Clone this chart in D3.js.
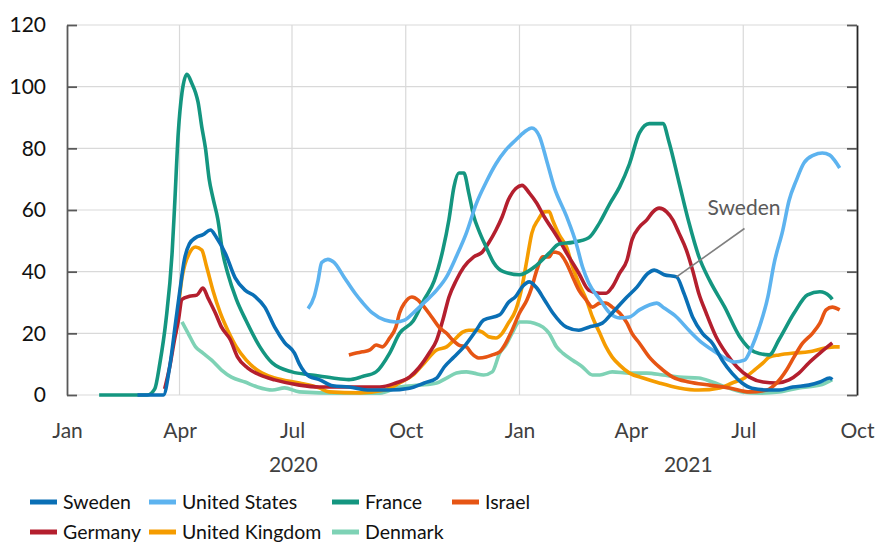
<!DOCTYPE html>
<html>
<head>
<meta charset="utf-8">
<script src="https://cdn.jsdelivr.net/npm/d3@7"></script>
<style>
  body { margin: 0; background: #fff; }
  svg { display: block; font-family: Lato, "Open Sans", sans-serif; }
</style>
</head>
<body>
<svg id="chart" width="876" height="547"></svg>
<script>
// values (date, value)
const sweden = [["2020-02-27",0],["2020-03-19",0],["2020-03-24",9],["2020-03-29",24],["2020-04-01",33],["2020-04-05",44],["2020-04-09",49],["2020-04-14",51],["2020-04-20",52],["2020-04-26",53.5],["2020-05-01",51],["2020-05-08",46],["2020-05-16",38],["2020-05-24",34],["2020-06-01",32],["2020-06-09",28.5],["2020-06-17",22],["2020-06-25",17],["2020-07-03",13.6],["2020-07-07",10],["2020-07-15",6],["2020-07-23",5],["2020-08-03",3],["2020-08-16",2.6],["2020-09-02",1.6],["2020-09-18",1.6],["2020-10-04",2.2],["2020-10-16",3.9],["2020-10-26",5.5],["2020-11-01",9],["2020-11-09",12.3],["2020-11-17",15.6],["2020-11-27",21],["2020-12-03",24.3],["2020-12-16",26],["2020-12-23",30],["2020-12-29",32],["2021-01-03",35],["2021-01-09",36.7],["2021-01-15",34.7],["2021-01-21",31],["2021-01-28",26.6],["2021-02-08",22],["2021-02-18",21],["2021-02-26",22],["2021-03-09",23.3],["2021-03-17",26.6],["2021-03-27",31],["2021-04-06",35],["2021-04-15",39.5],["2021-04-20",40.5],["2021-04-28",39],["2021-05-08",38.3],["2021-05-14",33],["2021-05-21",25.3],["2021-05-29",20],["2021-06-06",16.8],["2021-06-14",11.3],["2021-06-22",7],["2021-06-30",3.9],["2021-07-08",2.2],["2021-07-22",1.6],["2021-07-30",1.6],["2021-08-10",2.6],["2021-08-23",3.2],["2021-09-01",4.2],["2021-09-09",5.5],["2021-09-11",5]];

const unitedStates = [["2020-07-14",28],["2020-07-19",32],["2020-07-22",37],["2020-07-25",43],["2020-07-30",44],["2020-08-04",43],["2020-08-12",38.3],["2020-08-21",33],["2020-08-27",30],["2020-09-04",26.6],["2020-09-14",24.3],["2020-09-23",23.7],["2020-09-30",24.3],["2020-10-07",26.6],["2020-10-16",30],["2020-10-26",34],["2020-11-03",38.3],["2020-11-11",45],["2020-11-19",52.5],["2020-11-27",62],["2020-12-05",69],["2020-12-13",75],["2020-12-21",79.5],["2020-12-29",82.7],["2021-01-05",85.3],["2021-01-11",86.6],["2021-01-17",84],["2021-01-23",76],["2021-01-29",67.5],["2021-02-08",58],["2021-02-16",49],["2021-02-21",41.5],["2021-02-26",36.3],["2021-03-07",31],["2021-03-15",26.6],["2021-03-23",25],["2021-03-31",25.3],["2021-04-08",27.6],["2021-04-16",29.2],["2021-04-22",29.8],["2021-04-28",28.2],["2021-05-08",25.3],["2021-05-18",21],["2021-05-29",16.8],["2021-06-06",14.6],["2021-06-16",12],["2021-06-24",10.7],["2021-07-02",11.3],["2021-07-08",15.6],["2021-07-14",22],["2021-07-21",32],["2021-07-26",42.8],["2021-08-02",53.5],["2021-08-07",63],["2021-08-13",69.7],["2021-08-19",75.2],["2021-08-27",77.8],["2021-09-03",78.5],["2021-09-09",77.8],["2021-09-13",76],["2021-09-17",73.6]];

const france = [["2020-01-27",0],["2020-03-06",0],["2020-03-12",2],["2020-03-16",10],["2020-03-21",24],["2020-03-26",46],["2020-03-28",61],["2020-03-31",85],["2020-04-03",98],["2020-04-07",104],["2020-04-11",101],["2020-04-14",98],["2020-04-16",95],["2020-04-19",87],["2020-04-22",80],["2020-04-25",70],["2020-04-28",64],["2020-05-02",57],["2020-05-06",46],["2020-05-10",39.5],["2020-05-17",31],["2020-05-25",24],["2020-06-05",15.6],["2020-06-15",10.4],["2020-07-01",7.5],["2020-07-17",6.5],["2020-08-03",5.5],["2020-08-16",5],["2020-08-27",6],["2020-09-07",7.5],["2020-09-18",13.6],["2020-09-26",20],["2020-10-07",24],["2020-10-16",31],["2020-10-24",37],["2020-10-31",47],["2020-11-05",57],["2020-11-09",67.5],["2020-11-13",72],["2020-11-17",72],["2020-11-21",65.5],["2020-11-25",58],["2020-11-29",53.5],["2020-12-05",48],["2020-12-11",43],["2020-12-19",40],["2021-01-01",39],["2021-01-13",41.5],["2021-01-25",46],["2021-02-02",49],["2021-02-13",49.5],["2021-02-26",51],["2021-03-07",56],["2021-03-15",62],["2021-03-23",67.5],["2021-03-31",75],["2021-04-08",85],["2021-04-16",88],["2021-04-27",88],["2021-05-02",82],["2021-05-10",69],["2021-05-18",56],["2021-05-26",45],["2021-06-04",37],["2021-06-16",28.5],["2021-06-28",19],["2021-07-10",14],["2021-07-22",13],["2021-07-30",18],["2021-08-11",26.5],["2021-08-22",32.5],["2021-09-01",33.5],["2021-09-09",32],["2021-09-11",31]];

const israel = [["2020-08-16",13],["2020-08-22",13.6],["2020-08-27",14],["2020-09-02",14.6],["2020-09-07",16.2],["2020-09-12",15.6],["2020-09-18",18.5],["2020-09-23",22],["2020-09-26",26.6],["2020-09-30",29.8],["2020-10-06",31.8],["2020-10-11",30.8],["2020-10-16",28.5],["2020-10-22",25.3],["2020-10-28",22],["2020-11-03",20],["2020-11-08",17.8],["2020-11-13",16.2],["2020-11-19",15.6],["2020-11-23",13.6],["2020-11-29",12],["2020-12-05",12.3],["2020-12-10",13],["2020-12-16",14],["2020-12-21",16.9],["2020-12-26",21],["2021-01-01",26.6],["2021-01-07",30.8],["2021-01-11",35],["2021-01-15",40.5],["2021-01-20",44.8],["2021-01-25",44.8],["2021-01-28",46.4],["2021-02-02",46],["2021-02-08",42.8],["2021-02-13",38.3],["2021-02-18",34],["2021-02-24",30.8],["2021-03-01",28.5],["2021-03-07",29.8],["2021-03-12",29.8],["2021-03-17",28.5],["2021-03-23",26.6],["2021-03-29",23.3],["2021-04-02",20],["2021-04-08",16.8],["2021-04-16",12.3],["2021-04-24",9.1],["2021-05-05",5.8],["2021-05-18",4.2],["2021-06-04",3.2],["2021-06-20",2.3],["2021-07-06",1],["2021-07-20",1.6],["2021-07-28",3.9],["2021-08-05",8.1],["2021-08-11",12.3],["2021-08-18",16.8],["2021-08-26",20],["2021-09-01",23.3],["2021-09-06",27.6],["2021-09-11",28.5],["2021-09-17",27.6]];

const germany = [["2020-03-20",2],["2020-03-24",9],["2020-03-28",18],["2020-03-31",24],["2020-04-03",31],["2020-04-09",32],["2020-04-15",32.4],["2020-04-20",34.7],["2020-04-24",31.5],["2020-04-30",26.6],["2020-05-05",22],["2020-05-12",18],["2020-05-18",12.3],["2020-05-26",8.8],["2020-06-05",6.5],["2020-06-17",4.9],["2020-07-07",3.2],["2020-07-23",2.6],["2020-08-16",2.6],["2020-09-10",2.6],["2020-09-23",3.9],["2020-10-04",5.8],["2020-10-12",9],["2020-10-20",13.6],["2020-10-26",17.8],["2020-10-31",24.3],["2020-11-05",31.8],["2020-11-11",37.3],["2020-11-17",41.5],["2020-11-25",44.8],["2020-12-02",46.4],["2020-12-07",49.3],["2020-12-13",53.5],["2020-12-18",57.8],["2020-12-23",63.3],["2020-12-29",67],["2021-01-03",68],["2021-01-09",65.5],["2021-01-15",62.2],["2021-01-21",57.8],["2021-01-28",53.5],["2021-02-02",50.3],["2021-02-10",44.8],["2021-02-18",39.5],["2021-02-26",34],["2021-03-07",33],["2021-03-12",33],["2021-03-17",35],["2021-03-23",39.5],["2021-03-29",43.8],["2021-04-02",50.3],["2021-04-08",54.5],["2021-04-14",56.8],["2021-04-19",59.4],["2021-04-24",60.6],["2021-04-30",59.4],["2021-05-05",56.8],["2021-05-10",52.5],["2021-05-16",47],["2021-05-21",40.5],["2021-05-26",33],["2021-06-01",26.6],["2021-06-09",18.9],["2021-06-17",13.6],["2021-06-26",9.1],["2021-07-06",5.8],["2021-07-17",4.2],["2021-07-28",3.9],["2021-08-07",4.9],["2021-08-15",7.1],["2021-08-23",10.4],["2021-09-01",13.6],["2021-09-11",16.9]];

const unitedKingdom = [["2020-03-29",20],["2020-04-03",38],["2020-04-09",46],["2020-04-14",48],["2020-04-19",47],["2020-04-23",41.5],["2020-04-28",34],["2020-05-04",26.6],["2020-05-10",21],["2020-05-17",15.6],["2020-05-25",11.3],["2020-06-05",7.5],["2020-06-17",5.5],["2020-07-07",3.9],["2020-07-23",2.3],["2020-07-31",1],["2020-08-25",0.7],["2020-09-14",1.6],["2020-09-26",3.9],["2020-10-07",6.5],["2020-10-16",10.4],["2020-10-26",14.6],["2020-11-03",15.6],["2020-11-09",17.8],["2020-11-16",20.4],["2020-11-21",21],["2020-11-27",21],["2020-12-02",20.4],["2020-12-07",18.9],["2020-12-13",18.5],["2020-12-18",20],["2020-12-23",23.3],["2020-12-29",27.6],["2021-01-03",35],["2021-01-07",43.8],["2021-01-11",52.5],["2021-01-16",56.8],["2021-01-21",59.4],["2021-01-25",59.5],["2021-01-28",56.5],["2021-02-02",52],["2021-02-08",48],["2021-02-13",41.5],["2021-02-18",36.3],["2021-02-24",31],["2021-03-01",25.3],["2021-03-07",20],["2021-03-12",15.6],["2021-03-17",12.3],["2021-03-23",9.7],["2021-03-31",7.1],["2021-04-11",5.5],["2021-04-24",3.9],["2021-05-10",2.3],["2021-05-26",1.6],["2021-06-12",2.3],["2021-06-22",3.9],["2021-07-02",5.5],["2021-07-10",8.1],["2021-07-17",10.4],["2021-07-22",12.3],["2021-07-30",13],["2021-08-11",13.6],["2021-08-23",14],["2021-09-05",15.2],["2021-09-13",15.6],["2021-09-17",15.6]];

const denmark = [["2020-04-03",23.7],["2020-04-08",20],["2020-04-14",15.6],["2020-04-20",13.6],["2020-04-27",11.3],["2020-05-05",8.1],["2020-05-13",5.8],["2020-05-24",4.2],["2020-06-03",2.6],["2020-06-15",1.6],["2020-06-25",2.3],["2020-07-07",1],["2020-08-08",0.6],["2020-09-10",0.6],["2020-09-26",2.6],["2020-10-12",3.2],["2020-10-26",3.9],["2020-11-03",5.5],["2020-11-11",7.1],["2020-11-19",7.5],["2020-11-25",7.1],["2020-12-03",6.5],["2020-12-10",7.5],["2020-12-16",13.6],["2020-12-21",16.2],["2020-12-26",20],["2021-01-01",23.7],["2021-01-07",23.7],["2021-01-13",23.3],["2021-01-20",22],["2021-01-25",20],["2021-01-31",15.6],["2021-02-05",13.6],["2021-02-13",11.3],["2021-02-21",9.1],["2021-03-01",6.5],["2021-03-07",6.5],["2021-03-17",7.5],["2021-03-31",7.1],["2021-04-14",7.1],["2021-04-27",6.5],["2021-05-10",5.8],["2021-05-26",5.5],["2021-06-06",4.2],["2021-06-17",2.6],["2021-06-30",1],["2021-07-14",0.6],["2021-07-30",1],["2021-08-15",2.3],["2021-09-01",3.2],["2021-09-11",5]];

const countries = ["Sweden", "United States", "France", "Israel", "Germany", "United Kingdom", "Denmark"];
const seriesValues = [sweden, unitedStates, france, israel, germany, unitedKingdom, denmark];
const colors = ["#0a6fb5", "#5db3ef", "#149680", "#e65514", "#b41f2e", "#f59c00", "#7ed2b5"];

const yTicks = [0, 20, 40, 60, 80, 100, 120];
const monthTicks = ["2020-01-01", "2020-04-01", "2020-07-01", "2020-10-01", "2021-01-01", "2021-04-01", "2021-07-01", "2021-10-01"];
const yearLabels = [["2020", "2020-01-01", "2021-01-01"], ["2021", "2021-01-01", "2021-10-01"]];

const parse = d3.timeParse("%Y-%m-%d");
const svg = d3.select("#chart");
const margin = { top: 25, right: 19, bottom: 152, left: 67 };
const W = 876, H = 547;

const x = d3.scaleTime()
    .domain([parse("2020-01-01"), parse("2021-10-01")])
    .range([margin.left, W - margin.right]);
const y = d3.scaleLinear()
    .domain([0, 120])
    .range([H - margin.bottom, margin.top]);

// gridlines
svg.append("g")
    .selectAll("line.hgrid")
    .data(yTicks)
    .enter()
    .append("line")
        .attr("x1", margin.left).attr("x2", W - margin.right)
        .attr("y1", d => y(d)).attr("y2", d => y(d))
        .attr("stroke", "#d9d9d9").attr("stroke-width", 1.2);

svg.append("g")
    .selectAll("line.vgrid")
    .data(monthTicks.slice(1, -1))
    .enter()
    .append("line")
        .attr("x1", d => x(parse(d))).attr("x2", d => x(parse(d)))
        .attr("y1", y(0)).attr("y2", y(120))
        .attr("stroke", "#d9d9d9").attr("stroke-width", 1.2);

// left axis, ticks pointing inward
const yAxis = svg.append("g")
    .attr("transform", `translate(${margin.left},0)`)
    .call(d3.axisLeft(y).tickValues(yTicks).tickSizeInner(-10).tickSizeOuter(0).tickPadding(21));
yAxis.select(".domain").attr("stroke", "#595959").attr("stroke-width", 1.8);
yAxis.selectAll(".tick line").attr("stroke", "#595959").attr("stroke-width", 1.8);
yAxis.selectAll("text").attr("font-size", 21).attr("fill", "#111").attr("font-family", "Lato");

// right axis
const yAxisR = svg.append("g")
    .attr("transform", `translate(${W - margin.right},0)`)
    .call(d3.axisRight(y).tickValues(yTicks).tickSizeInner(-10).tickSizeOuter(0).tickFormat(""));
yAxisR.select(".domain").attr("stroke", "#262626").attr("stroke-width", 1.8);
yAxisR.selectAll(".tick line").attr("stroke", "#595959").attr("stroke-width", 1.8);

// bottom month labels
const xAxis = svg.append("g")
    .attr("transform", `translate(0,${y(0)})`)
    .call(d3.axisBottom(x).tickValues(monthTicks.map(parse)).tickFormat(d3.timeFormat("%b")).tickSize(0).tickPadding(28));
xAxis.select(".domain").remove();
xAxis.selectAll("text").attr("font-size", 21).attr("fill", "#404040").attr("font-family", "Lato");

svg.append("g")
    .selectAll("text")
    .data(yearLabels)
    .enter()
    .append("text")
        .attr("x", d => (x(parse(d[1])) + x(parse(d[2]))) / 2)
        .attr("y", y(0) + 77)
        .attr("text-anchor", "middle")
        .attr("font-size", 21)
        .attr("fill", "#404040")
        .text(d => d[0]);

// lines, Sweden drawn last so it sits on top
const line = d3.line()
    .x(d => x(parse(d[0])))
    .y(d => y(d[1]))
    .curve(d3.curveMonotoneX);

const order = d3.range(countries.length).reverse();
svg.append("g")
    .selectAll("path")
    .data(order)
    .enter()
    .append("path")
        .attr("d", i => line(seriesValues[i]))
        .attr("fill", "none")
        .attr("stroke", i => colors[i])
        .attr("stroke-width", 3.6)
        .attr("stroke-linejoin", "round");

// annotation for Sweden
const anchor = sweden.find(d => d[0] === "2021-05-08");
svg.append("line")
    .attr("x1", x(parse("2021-07-02"))).attr("y1", y(54))
    .attr("x2", x(parse(anchor[0]))).attr("y2", y(anchor[1]))
    .attr("stroke", "#7f7f7f").attr("stroke-width", 1.6);
svg.append("text")
    .attr("x", x(parse("2021-06-02")))
    .attr("y", y(58.5))
    .attr("font-size", 21)
    .attr("fill", "#595959")
    .text("Sweden");

// legend, 4 columns
const colX = [30, 149, 332, 452];
const rowY = [502, 532];
const legend = svg.append("g")
    .selectAll("g")
    .data(countries)
    .enter()
    .append("g")
        .attr("transform", (d, i) => `translate(${colX[i % 4]},${rowY[Math.floor(i / 4)]})`);
legend.append("line")
    .attr("x1", 0).attr("x2", 27)
    .attr("stroke", (d, i) => colors[i])
    .attr("stroke-width", 5);
legend.append("text")
    .attr("x", 33)
    .attr("dy", "0.35em")
    .attr("font-size", 19.5)
    .attr("fill", "#111")
    .text(d => d);
</script>
</body>
</html>
